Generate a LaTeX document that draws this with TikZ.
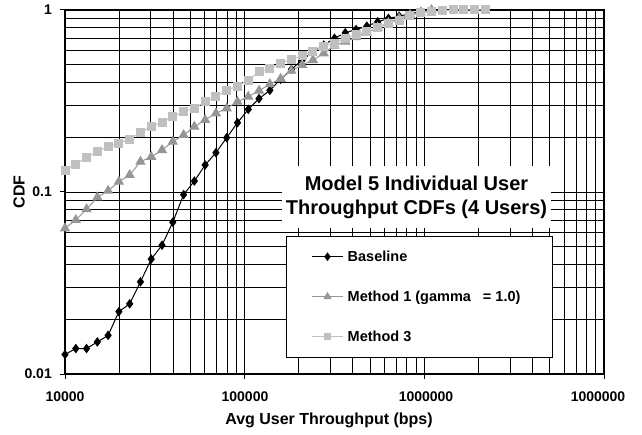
\documentclass[tikz,border=0pt]{standalone}
\usepackage{fontspec}
\setmainfont{Liberation Sans}
\usepackage{xcolor}
\usepackage{tikz}
\usepackage{pgfplots}
\usepackage{pgfplotstable}
\pgfplotsset{compat=1.18}
\definecolor{trigray}{HTML}{969696}
\definecolor{sqgray}{HTML}{C0C0C0}

% n: point index, x = 10^(4+0.06 n)
\pgfplotstableread{
n  base   mone   mthree
0  0.0128 0.0632 0.132
1  0.0138 0.0702 0.1425
2  0.0138 0.0804 0.155
3  0.0150 0.0935 0.1665
4  0.0163 0.1016 0.1774
5  0.0220 0.114  0.1852
6  0.0243 0.124  0.1955
7  0.0321 0.1467 0.2128
8  0.0428 0.156  0.2285
9  0.0510 0.170  0.2415
10 0.0682 0.189  0.259
11 0.0967 0.2057 0.276
12 0.1149 0.2285 0.288
13 0.1407 0.249  0.313
14 0.1644 0.2706 0.334
15 0.1988 0.2884 0.363
16 0.2403 0.3134 0.382
17 0.2846 0.334  0.412
18 0.326  0.3603 0.458
19 0.362  0.391  0.478
20 0.416  0.419  0.510
21 0.472  0.464  0.536
22 0.531  0.499  0.559
23 0.588  0.531  0.595
24 0.642  0.578  0.634
25 0.699  0.637  0.656
26 0.750  0.67   0.699
27 0.781  0.71   0.735
28 0.815  0.75   0.760
29 0.861  0.80   0.80
30 0.899  0.85   0.845
31 0.925  0.90   0.881
32 0.953  0.94   0.931
33 0.978  0.97   0.967
34 1.0    1.0    0.98
35 nan    nan    0.99
36 nan    nan    1.0
37 nan    nan    1.0
38 nan    nan    1.0
39 nan    nan    1.0
}\cdfdata

\begin{document}
\begin{tikzpicture}[
  lbl/.style={font=\bfseries\fontsize{14.5}{16}\selectfont,inner sep=0pt},
  tlbl/.style={font=\bfseries\fontsize{14}{14}\selectfont,inner sep=0pt},
  axlbl/.style={font=\bfseries\fontsize{16}{18}\selectfont,inner sep=0pt},
  basel/.style={black,line width=1pt,mark=diamond*,mark options={solid,fill=black}},
  monel/.style={trigray,line width=1pt,mark=triangle*,mark options={solid,fill=trigray}},
  mthreel/.style={sqgray,line width=1pt,mark=square*,mark options={solid,fill=sqgray}}]
\useasboundingbox (0pt,0pt) rectangle (642pt,435pt);
\begin{axis}[at={(65pt,61pt)},anchor=south west,scale only axis,
  width=539pt,height=364pt,
  xmode=log,ymode=log,xmin=1e4,xmax=1e7,ymin=0.01,ymax=1,
  xtick={1e4,1e5,1e6,1e7},xticklabels={},
  ytick={0.01,0.1,1},yticklabels={},
  minor xtick={2e4,3e4,4e4,5e4,6e4,7e4,8e4,9e4,2e5,3e5,4e5,5e5,6e5,7e5,8e5,9e5,2e6,3e6,4e6,5e6,6e6,7e6,8e6,9e6},
  minor ytick={0.02,0.03,0.04,0.05,0.06,0.07,0.08,0.09,0.2,0.3,0.4,0.5,0.6,0.7,0.8,0.9},
  grid=both,major grid style={black,line width=0.9pt},minor grid style={black,line width=0.9pt},
  axis line style={line width=2.4pt},
  tick align=outside,tick pos=left,major tick length=5pt,minor tick length=0pt,
  tick style={black,line width=1pt},
  clip=false]
\addplot[basel,mark size=4pt] table[x expr={10^(4+0.06*\thisrow{n})},y=base]{\cdfdata};
\addplot[monel,mark size=5pt] table[x expr={10^(4+0.06*\thisrow{n})},y=mone]{\cdfdata};
\addplot[mthreel,mark size=4pt] table[x expr={10^(4+0.06*\thisrow{n})},y=mthree]{\cdfdata};
\end{axis}
% tick labels
\node[tlbl,anchor=east] (yone) at (52pt,425pt) {1};
\node[tlbl,anchor=east] (ytenth) at (52pt,243pt) {0.1};
\node[tlbl,anchor=east] (yhundredth) at (52pt,61pt) {0.01};
\node[tlbl] (xfour) at (65pt,38pt) {10000};
\node[tlbl] (xfive) at (245pt,38pt) {100000};
\node[tlbl] (xsix) at (426pt,38pt) {1000000};
\node[tlbl] (xseven) at (598pt,38pt) {1000000};
\node[axlbl,rotate=90] (cdflab) at (19pt,243pt) {CDF};
\node[axlbl,anchor=base] (xlab) at (329pt,10pt) {Avg User Throughput (bps)};
% title and legend boxes
\node[fill=white,minimum width=269pt,minimum height=62pt,inner sep=0pt,align=center,
  font=\bfseries\fontsize{20}{23.5}\selectfont] (titlebox) at (416.5pt,237.5pt)
  {Model 5 Individual User\\Throughput CDFs (4 Users)};
\node[draw=black,line width=1pt,fill=white,minimum width=266pt,minimum height=121pt,inner sep=0pt] (legbox) at (419pt,138pt) {};
\draw[basel,mark size=3.5pt,mark repeat=2,mark phase=2] plot coordinates {(312pt,178.3pt) (327.5pt,178.3pt) (343pt,178.3pt)};
\draw[monel,mark size=3.8pt,mark repeat=2,mark phase=2] plot coordinates {(312pt,138.3pt) (327.5pt,138.3pt) (343pt,138.3pt)};
\draw[mthreel,mark size=3pt,mark repeat=2,mark phase=2] plot coordinates {(312pt,98.3pt) (327.5pt,98.3pt) (343pt,98.3pt)};
\node[lbl,anchor=base west] (legbase) at (347.5pt,173.1pt) {Baseline};
\node[lbl,anchor=base west] (legmone) at (347.5pt,133.1pt) {Method 1 (gamma\hspace{12pt}= 1.0)};
\node[lbl,anchor=base west] (legmthree) at (347.5pt,93.1pt) {Method 3};
\end{tikzpicture}
\end{document}
